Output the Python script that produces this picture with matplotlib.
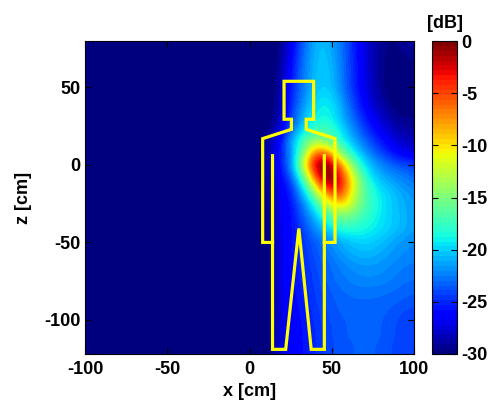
import numpy as np
import matplotlib
matplotlib.use("Agg")
import matplotlib.pyplot as plt

plt.rcParams['font.family'] = ['Liberation Sans', 'DejaVu Sans']
plt.rcParams['font.weight'] = 'bold'
plt.rcParams['axes.unicode_minus'] = False

# field values [dB], x = 0..100 cm (step 5), z = 80..-120 cm (step 5)
# left half (x < 0) reads as the clipped floor, -30 dB
x_cols = np.arange(0, 101, 5)
z_rows = np.arange(80, -121, -5)
field_db = [
    [-30, -30, -30, -30, -29.0, -27.0, -24.5, -22.5, -21.0, -20.5, -21.3, -22.5, -24.0, -25.8, -27.3, -28.5, -29.3, -29.6, -29.5, -29.0, -28.8],  # 80
    [-30, -30, -30, -30, -29.0, -26.8, -24.3, -22.3, -20.9, -20.4, -21.2, -22.4, -24.0, -25.7, -27.2, -28.4, -29.3, -29.7, -29.7, -29.3, -29.0],  # 75
    [-30, -30, -30, -30, -28.8, -26.5, -24.0, -22.1, -20.8, -20.3, -21.0, -22.3, -23.9, -25.6, -27.1, -28.4, -29.3, -29.8, -29.8, -29.6, -29.3],  # 70
    [-30, -30, -30, -30, -28.6, -26.3, -23.8, -22.0, -20.7, -20.2, -20.9, -22.2, -23.9, -25.6, -27.1, -28.4, -29.3, -29.8, -30.0, -29.8, -29.6],  # 65
    [-30, -30, -30, -30, -28.4, -26.0, -23.7, -21.9, -20.6, -20.1, -20.7, -22.1, -23.8, -25.5, -27.0, -28.4, -29.3, -29.9, -30.0, -30.0, -29.8],  # 60
    [-30, -30, -30, -30, -28.2, -25.8, -23.6, -21.8, -20.6, -20.1, -20.6, -22.0, -23.8, -25.5, -27.0, -28.3, -29.3, -30.0, -30.0, -30.0, -30.0],  # 55
    [-30, -30, -30, -30, -28.0, -25.5, -23.5, -21.8, -20.6, -20.0, -20.5, -21.9, -23.7, -25.4, -26.9, -28.2, -29.2, -29.9, -30.0, -30.0, -30.0],  # 50
    [-30, -30, -30, -29.9, -27.9, -25.3, -23.2, -21.4, -20.2, -19.6, -20.0, -21.4, -23.3, -25.0, -26.6, -28.0, -29.0, -29.7, -30.0, -30.0, -30.0],  # 45
    [-30, -30, -30, -29.8, -27.8, -25.1, -22.9, -21.0, -19.8, -19.2, -19.6, -21.0, -22.9, -24.7, -26.3, -27.7, -28.7, -29.5, -29.9, -30.0, -30.0],  # 40
    [-30, -30, -30, -29.7, -27.7, -24.8, -22.4, -20.5, -19.4, -18.8, -19.2, -20.6, -22.4, -24.2, -25.8, -27.2, -28.2, -29.1, -29.7, -29.8, -29.8],  # 35
    [-30, -30, -30, -29.5, -27.5, -24.5, -22.0, -20.0, -19.0, -18.5, -19.0, -20.3, -22.0, -23.6, -25.2, -26.6, -27.7, -28.6, -29.3, -29.5, -29.5],  # 30
    [-30, -30, -29.8, -29.0, -26.8, -23.5, -21.0, -19.0, -17.8, -17.5, -18.0, -19.5, -21.3, -22.9, -24.5, -25.9, -27.0, -28.0, -28.8, -29.2, -29.2],  # 25
    [-30, -30, -29.6, -28.5, -26.0, -22.5, -20.0, -17.8, -16.3, -16.3, -17.2, -18.8, -20.6, -22.2, -23.8, -25.1, -26.3, -27.3, -28.2, -28.7, -28.8],  # 20
    [-30, -30, -29.3, -27.8, -25.0, -21.5, -18.5, -15.5, -13.5, -14.0, -15.8, -17.8, -19.6, -21.3, -22.8, -24.2, -25.4, -26.5, -27.4, -28.0, -28.3],  # 15
    [-30, -30, -29.2, -27.6, -24.8, -21.8, -18.2, -13.5, -9.0, -8.5, -11.5, -15.0, -18.0, -20.2, -21.8, -23.3, -24.6, -25.7, -26.7, -27.3, -27.6],  # 10
    [-30, -30, -29.1, -27.5, -24.8, -22.0, -17.0, -10.5, -4.5, -3.0, -6.0, -11.5, -15.5, -18.5, -20.5, -22.0, -23.2, -24.3, -25.2, -25.8, -26.2],  # 5
    [-30, -30, -29.0, -27.5, -25.0, -22.0, -16.5, -9.0, -2.5, -0.5, -2.0, -6.5, -12.0, -16.5, -19.3, -21.0, -22.2, -23.0, -23.6, -24.0, -24.5],  # 0
    [-30, -30, -29.2, -27.7, -25.5, -22.8, -18.0, -11.5, -4.0, -0.3, -0.8, -4.0, -9.5, -14.5, -18.0, -20.2, -21.3, -22.0, -22.6, -23.0, -23.5],  # -5
    [-30, -30, -29.5, -28.0, -26.0, -24.0, -20.0, -14.5, -7.5, -2.0, -0.8, -3.0, -8.0, -13.0, -17.0, -19.2, -20.5, -21.2, -21.8, -22.3, -22.7],  # -10
    [-30, -30, -29.6, -28.2, -26.3, -25.0, -21.5, -17.5, -11.5, -6.0, -3.0, -3.5, -8.0, -13.0, -16.3, -18.5, -19.8, -20.5, -21.2, -21.8, -22.2],  # -15
    [-30, -30, -29.7, -28.3, -26.5, -25.5, -22.5, -19.5, -15.0, -10.5, -7.0, -6.0, -9.5, -13.5, -16.3, -18.0, -19.2, -20.0, -20.7, -21.3, -21.7],  # -20
    [-30, -30, -29.8, -28.4, -26.5, -25.8, -23.5, -21.0, -18.0, -14.0, -10.5, -9.5, -11.0, -14.0, -16.5, -18.0, -19.2, -20.0, -20.6, -21.2, -21.6],  # -25
    [-30, -30, -30, -28.5, -26.5, -26.0, -24.0, -22.0, -19.5, -17.0, -14.5, -13.5, -13.8, -15.5, -17.0, -18.2, -19.2, -19.9, -20.5, -21.0, -21.5],  # -30
    [-30, -30, -30, -28.6, -26.5, -26.0, -24.5, -22.8, -20.8, -18.8, -17.0, -16.0, -16.0, -16.8, -17.8, -18.6, -19.4, -20.0, -20.5, -21.0, -21.5],  # -35
    [-30, -30, -30, -28.7, -26.6, -26.0, -24.8, -23.3, -21.8, -20.3, -19.0, -18.0, -17.8, -18.0, -18.5, -19.0, -19.5, -20.0, -20.5, -21.0, -21.5],  # -40
    [-30, -30, -30, -28.8, -26.6, -26.0, -25.0, -23.8, -22.7, -21.5, -20.5, -19.6, -19.2, -19.1, -19.2, -19.6, -20.0, -20.5, -21.0, -21.4, -21.8],  # -45
    [-30, -30, -30, -28.8, -26.7, -26.0, -25.0, -24.2, -23.5, -22.7, -22.0, -21.2, -20.5, -20.2, -20.0, -20.2, -20.5, -21.0, -21.5, -21.8, -22.0],  # -50
    [-30, -30, -30, -28.8, -26.7, -26.0, -25.1, -24.4, -23.6, -22.9, -22.2, -21.5, -21.0, -20.7, -20.5, -20.7, -21.0, -21.4, -21.8, -22.0, -22.2],  # -55
    [-30, -30, -30, -28.8, -26.7, -26.0, -25.2, -24.5, -23.8, -23.2, -22.6, -22.0, -21.5, -21.2, -21.0, -21.1, -21.4, -21.7, -22.0, -22.2, -22.4],  # -60
    [-30, -30, -30, -28.8, -26.8, -26.0, -25.3, -24.6, -24.0, -23.4, -22.9, -22.4, -22.0, -21.7, -21.6, -21.6, -21.8, -22.0, -22.3, -22.5, -22.6],  # -65
    [-30, -30, -30, -28.8, -26.8, -26.0, -25.3, -24.7, -24.1, -23.5, -23.0, -22.6, -22.3, -22.0, -21.9, -21.9, -22.0, -22.2, -22.5, -22.7, -22.8],  # -70
    [-30, -30, -30, -28.8, -26.8, -26.0, -25.4, -24.8, -24.2, -23.6, -23.1, -22.8, -22.5, -22.3, -22.2, -22.2, -22.3, -22.5, -22.7, -22.9, -23.0],  # -75
    [-30, -30, -30, -28.8, -26.8, -26.1, -25.5, -24.9, -24.3, -23.8, -23.3, -23.0, -22.8, -22.6, -22.6, -22.6, -22.7, -22.8, -23.0, -23.2, -23.3],  # -80
    [-30, -30, -30, -28.9, -26.9, -26.2, -25.6, -25.0, -24.4, -23.9, -23.5, -23.2, -23.0, -22.9, -22.9, -22.9, -23.0, -23.1, -23.2, -23.4, -23.5],  # -85
    [-30, -30, -30, -28.9, -26.9, -26.3, -25.7, -25.1, -24.5, -24.0, -23.6, -23.3, -23.2, -23.1, -23.1, -23.1, -23.2, -23.3, -23.5, -23.7, -23.8],  # -90
    [-30, -30, -30, -29.0, -27.0, -26.4, -25.8, -25.2, -24.6, -24.1, -23.7, -23.4, -23.3, -23.2, -23.2, -23.2, -23.3, -23.5, -23.8, -24.0, -24.1],  # -95
    [-30, -30, -30, -29.0, -27.0, -26.5, -25.9, -25.3, -24.7, -24.2, -23.8, -23.5, -23.4, -23.3, -23.3, -23.3, -23.4, -23.6, -23.9, -24.1, -24.2],  # -100
    [-30, -30, -30, -29.0, -27.1, -26.6, -26.0, -25.4, -24.8, -24.3, -23.9, -23.6, -23.4, -23.3, -23.3, -23.3, -23.4, -23.7, -24.0, -24.2, -24.2],  # -105
    [-30, -30, -30, -29.0, -27.1, -26.6, -26.0, -25.4, -24.8, -24.3, -23.9, -23.6, -23.4, -23.3, -23.3, -23.3, -23.4, -23.7, -24.0, -24.2, -24.3],  # -110
    [-30, -30, -30, -29.0, -27.2, -26.7, -26.1, -25.5, -24.9, -24.4, -24.0, -23.7, -23.5, -23.4, -23.4, -23.4, -23.5, -23.8, -24.1, -24.3, -24.3],  # -115
    [-30, -30, -30, -29.0, -27.2, -26.7, -26.1, -25.5, -24.9, -24.4, -24.0, -23.7, -23.5, -23.4, -23.4, -23.4, -23.5, -23.8, -24.1, -24.3, -24.3],  # -120
]
left_floor_db = -30.0
left_cols = np.arange(-100, 0, 5)

# human outline [cm]
torso_x = [14, 8, 8, 25.5, 25.5, 21, 21, 39, 39, 34.5, 34.5, 52, 52, 45.5]
torso_z = [-50, -50, 17, 23, 29.5, 29.5, 54, 54, 29.5, 29.5, 23, 17, -50, -50]
legs_x = [14, 14, 22, 30, 37.5, 45.5, 45.5]
legs_z = [6, -119, -119, -41, -119, -119, 6]

cb_ticks = [-30, -25, -20, -15, -10, -5, 0]

grid = np.hstack([np.full((len(z_rows), len(left_cols)), left_floor_db), np.array(field_db)])
dx = 5
extent = [left_cols[0] - dx / 2, x_cols[-1] + dx / 2, z_rows[-1] - dx / 2, z_rows[0] + dx / 2]

fig = plt.figure(figsize=(4.91, 4.01), dpi=100)
ax = fig.add_axes([85 / 491, 1 - 354 / 401, 329 / 491, 313 / 401])
cax = fig.add_axes([432 / 491, 1 - 354 / 401, 25 / 491, 313 / 401])

cmap = plt.get_cmap('jet', 64)
im = ax.imshow(grid, extent=extent, origin='upper', cmap=cmap, vmin=-30, vmax=0,
               interpolation='bicubic', aspect='auto')

ax.plot(torso_x, torso_z, color='#ffff00', lw=2.3, solid_joinstyle='miter')
ax.plot(legs_x, legs_z, color='#ffff00', lw=2.3, solid_joinstyle='miter')

ax.set_xlim(-100, 100)
ax.set_ylim(-122, 80)
ax.set_xticks([-100, -50, 0, 50, 100])
ax.set_yticks([-100, -50, 0, 50])
ax.tick_params(direction='in', top=True, right=True, length=4, labelsize=13, width=0.8)
ax.tick_params(axis='x', pad=5)
ax.tick_params(axis='y', pad=3)
ax.set_xlabel('x [cm]', fontsize=13, fontweight='bold', labelpad=4)
ax.set_ylabel('z [cm]', fontsize=13, fontweight='bold', labelpad=9)

cb = fig.colorbar(im, cax=cax, ticks=cb_ticks)
cb.outline.set_linewidth(0.8)
cax.tick_params(direction='in', left=True, right=True, length=4, labelsize=13, pad=3, width=0.8)
cax.set_title('[dB]', fontsize=13, fontweight='bold', pad=9)

fig.savefig('out.png', dpi=100)
